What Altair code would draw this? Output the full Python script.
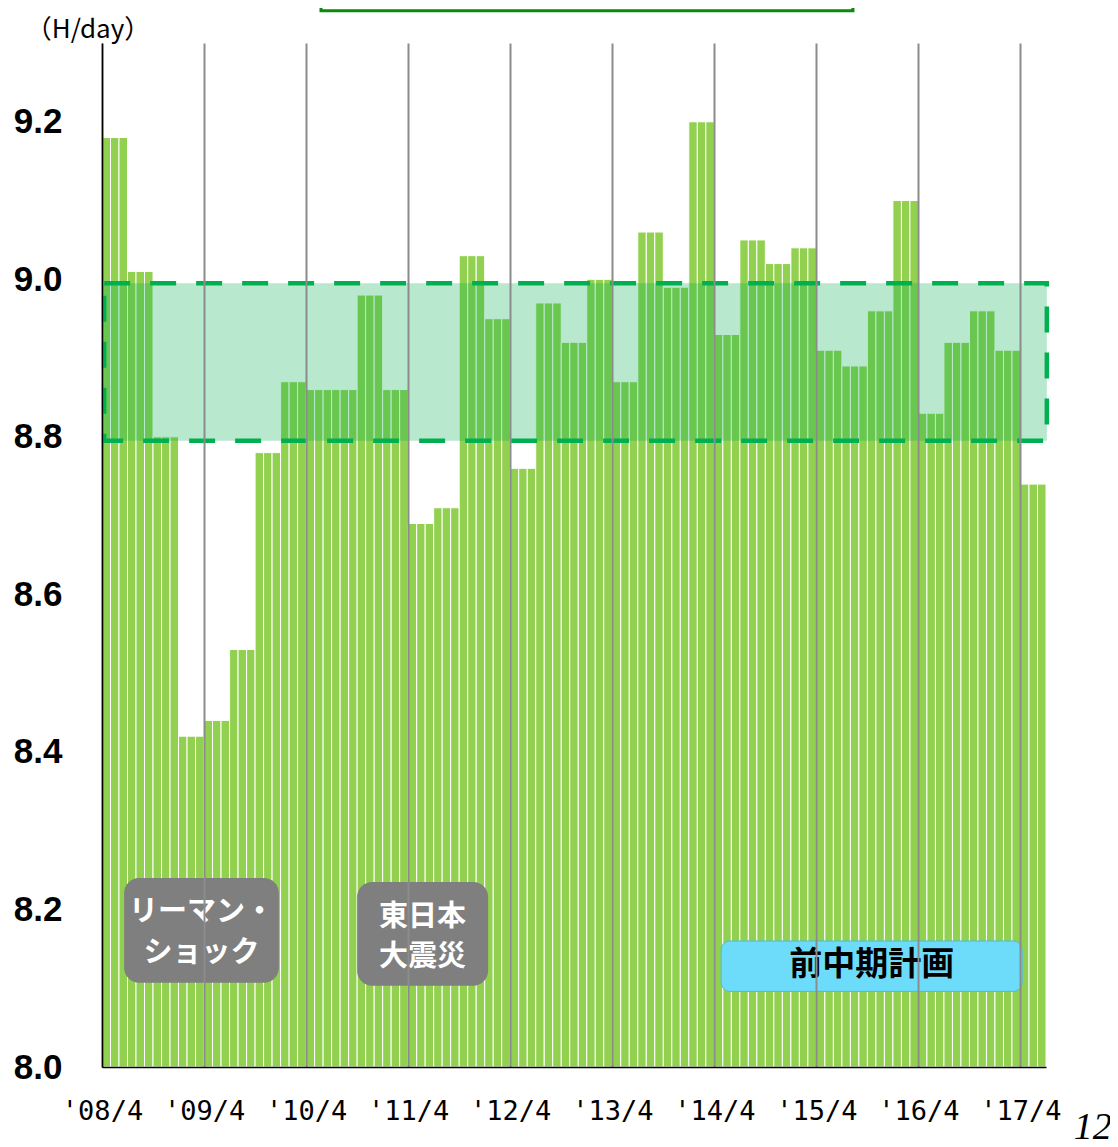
import json
import altair as alt
import pandas as pd

# Quarterly values (H/day), '08/4-6 quarter through '17/4-6 quarter, each shown as 3 monthly bars
quarter_values = [9.18, 9.01, 8.80, 8.42, 8.44, 8.53, 8.78, 8.87, 8.86, 8.86, 8.98, 8.86,
                  8.69, 8.71, 9.03, 8.95, 8.76, 8.97, 8.92, 9.00, 8.87, 9.06, 8.99, 9.20,
                  8.93, 9.05, 9.02, 9.04, 8.91, 8.89, 8.96, 9.10, 8.83, 8.92, 8.96, 8.91, 8.74]

tick_labels = ["'08/4", "'09/4", "'10/4", "'11/4", "'12/4",
               "'13/4", "'14/4", "'15/4", "'16/4", "'17/4"]
tick_months = [0, 12, 24, 36, 48, 60, 72, 84, 96, 108]
y_ticks = [8.0, 8.2, 8.4, 8.6, 8.8, 9.0, 9.2]

# previous mid-term plan target band
plan_low = 8.795
plan_high = 8.995
plan_start = 0.25
plan_end = 111.1

# annotation boxes (month index / value coordinates)
note_x = [2.6, 30.0]
note_x2 = [20.8, 45.4]
note_y = [8.240, 8.235]
note_y2 = [8.107, 8.103]

note_lines = ["リーマン・", "ショック", "東日本", "大震災"]
note_line_x = [11.7, 11.7, 37.7, 37.7]
note_line_y = [8.1965, 8.145, 8.191, 8.140]

plan_label = "前中期計画"
plan_box = [72.8, 108.2, 8.160, 8.096]
plan_label_pos = [90.5, 8.129]

unit_label = "（H/day）"
unit_pos = [-1.65, 9.316]

top_box = [25.75, 88.3, 9.50, 9.341]
page_no = "12"
page_pos = [116.5, 7.922]

# ---- build tables ----
months, months2, values = [], [], []
for q, v in enumerate(quarter_values):
    for m in range(3):
        months.append(3 * q + m)
        months2.append(3 * q + m + 1)
        values.append(v)
bars_df = pd.DataFrame({"m": months, "m2": months2, "v": values})

x_scale = alt.Scale(domain=[0, 111], nice=False, zero=False)
y_scale = alt.Scale(domain=[8.0, 9.3], nice=False, zero=False)

label_expr = "[" + ",".join(json.dumps(l) for l in tick_labels) + "][round(datum.value/12)]"

bars = alt.Chart(bars_df).mark_rect(
    color="#92d050", stroke="white", strokeWidth=1
).encode(
    x=alt.X("m:Q", scale=x_scale, axis=alt.Axis(
        values=tick_months, labelExpr=label_expr, grid=True, gridColor="#8c8c8c",
        gridWidth=2, ticks=False, domain=True, domainColor="black", domainWidth=1.5,
        labelFont="DejaVu Sans Mono", labelFontSize=27, labelColor="black",
        labelPadding=31, title=None, zindex=1, labelFlush=False)),
    x2="m2:Q",
    y=alt.Y("v:Q", scale=y_scale, axis=alt.Axis(
        values=y_ticks, format=".1f", grid=False, ticks=False, domainColor="black",
        domainWidth=1.5, labelFont="Liberation Sans", labelFontWeight="bold",
        labelFontSize=35, labelColor="black", labelPadding=40, title=None, zindex=1)),
    y2=alt.datum(8.0),
)

band_df = pd.DataFrame({"x": [plan_start], "x2": [plan_end], "y": [plan_low], "y2": [plan_high]})
band = alt.Chart(band_df).mark_rect(
    fill="#00b050", fillOpacity=0.28, stroke="#00b050", strokeWidth=4.5,
    strokeDash=[26, 20]
).encode(
    x=alt.X("x:Q", scale=x_scale), x2="x2:Q",
    y=alt.Y("y:Q", scale=y_scale), y2="y2:Q",
)

notes_df = pd.DataFrame({"x": note_x, "x2": note_x2, "y": note_y, "y2": note_y2})
note_boxes = alt.Chart(notes_df).mark_rect(fill="#7f7f7f", cornerRadius=15).encode(
    x=alt.X("x:Q", scale=x_scale), x2="x2:Q",
    y=alt.Y("y:Q", scale=y_scale), y2="y2:Q",
)
lines_df = pd.DataFrame({"t": note_lines, "x": note_line_x, "y": note_line_y})
note_text = alt.Chart(lines_df).mark_text(
    font="Noto Sans CJK JP", fontWeight="bold", fontSize=29, color="white",
    align="center", baseline="middle"
).encode(
    x=alt.X("x:Q", scale=x_scale), y=alt.Y("y:Q", scale=y_scale), text="t:N"
)

plan_df = pd.DataFrame({"t": [plan_label], "x": [plan_box[0]], "x2": [plan_box[1]],
                        "y": [plan_box[2]], "y2": [plan_box[3]],
                        "cx": [plan_label_pos[0]], "cy": [plan_label_pos[1]]})
plan_rect = alt.Chart(plan_df).mark_rect(
    fill="#6ddcfa", stroke="#4fb9dc", strokeWidth=1, cornerRadius=9
).encode(
    x=alt.X("x:Q", scale=x_scale), x2="x2:Q",
    y=alt.Y("y:Q", scale=y_scale), y2="y2:Q",
)
plan_text = alt.Chart(plan_df).mark_text(
    font="Noto Sans CJK JP", fontWeight="bold", fontSize=33, color="black",
    align="center", baseline="middle"
).encode(x=alt.X("cx:Q", scale=x_scale), y=alt.Y("cy:Q", scale=y_scale), text="t:N")

unit_df = pd.DataFrame({"t": [unit_label], "x": [unit_pos[0]], "y": [unit_pos[1]]})
unit_text = alt.Chart(unit_df).mark_text(
    font="Noto Sans CJK JP", fontSize=26, color="black", align="center", baseline="middle"
).encode(x=alt.X("x:Q", scale=x_scale), y=alt.Y("y:Q", scale=y_scale), text="t:N")

top_df = pd.DataFrame({"x": [top_box[0]], "x2": [top_box[1]], "y": [top_box[2]], "y2": [top_box[3]]})
top_rect = alt.Chart(top_df).mark_rect(fill="white", stroke="#0a8a0a", strokeWidth=3).encode(
    x=alt.X("x:Q", scale=x_scale), x2="x2:Q",
    y=alt.Y("y:Q", scale=y_scale), y2="y2:Q",
)

page_df = pd.DataFrame({"t": [page_no], "x": [page_pos[0]], "y": [page_pos[1]]})
page_text = alt.Chart(page_df).mark_text(
    font="Liberation Serif", fontStyle="italic", fontSize=38, color="black",
    align="center", baseline="middle"
).encode(x=alt.X("x:Q", scale=x_scale), y=alt.Y("y:Q", scale=y_scale), text="t:N")

chart = alt.layer(
    bars, band, note_boxes, note_text, plan_rect, plan_text, unit_text, top_rect, page_text
).properties(
    width=944, height=1024,
    autosize=alt.AutoSizeParams(type="none"),
    padding={"left": 94, "top": 35, "right": 64, "bottom": 72},
).configure_view(stroke=None, strokeWidth=0)

chart.save("out.html", embed_options={"renderer": "svg", "actions": False})
